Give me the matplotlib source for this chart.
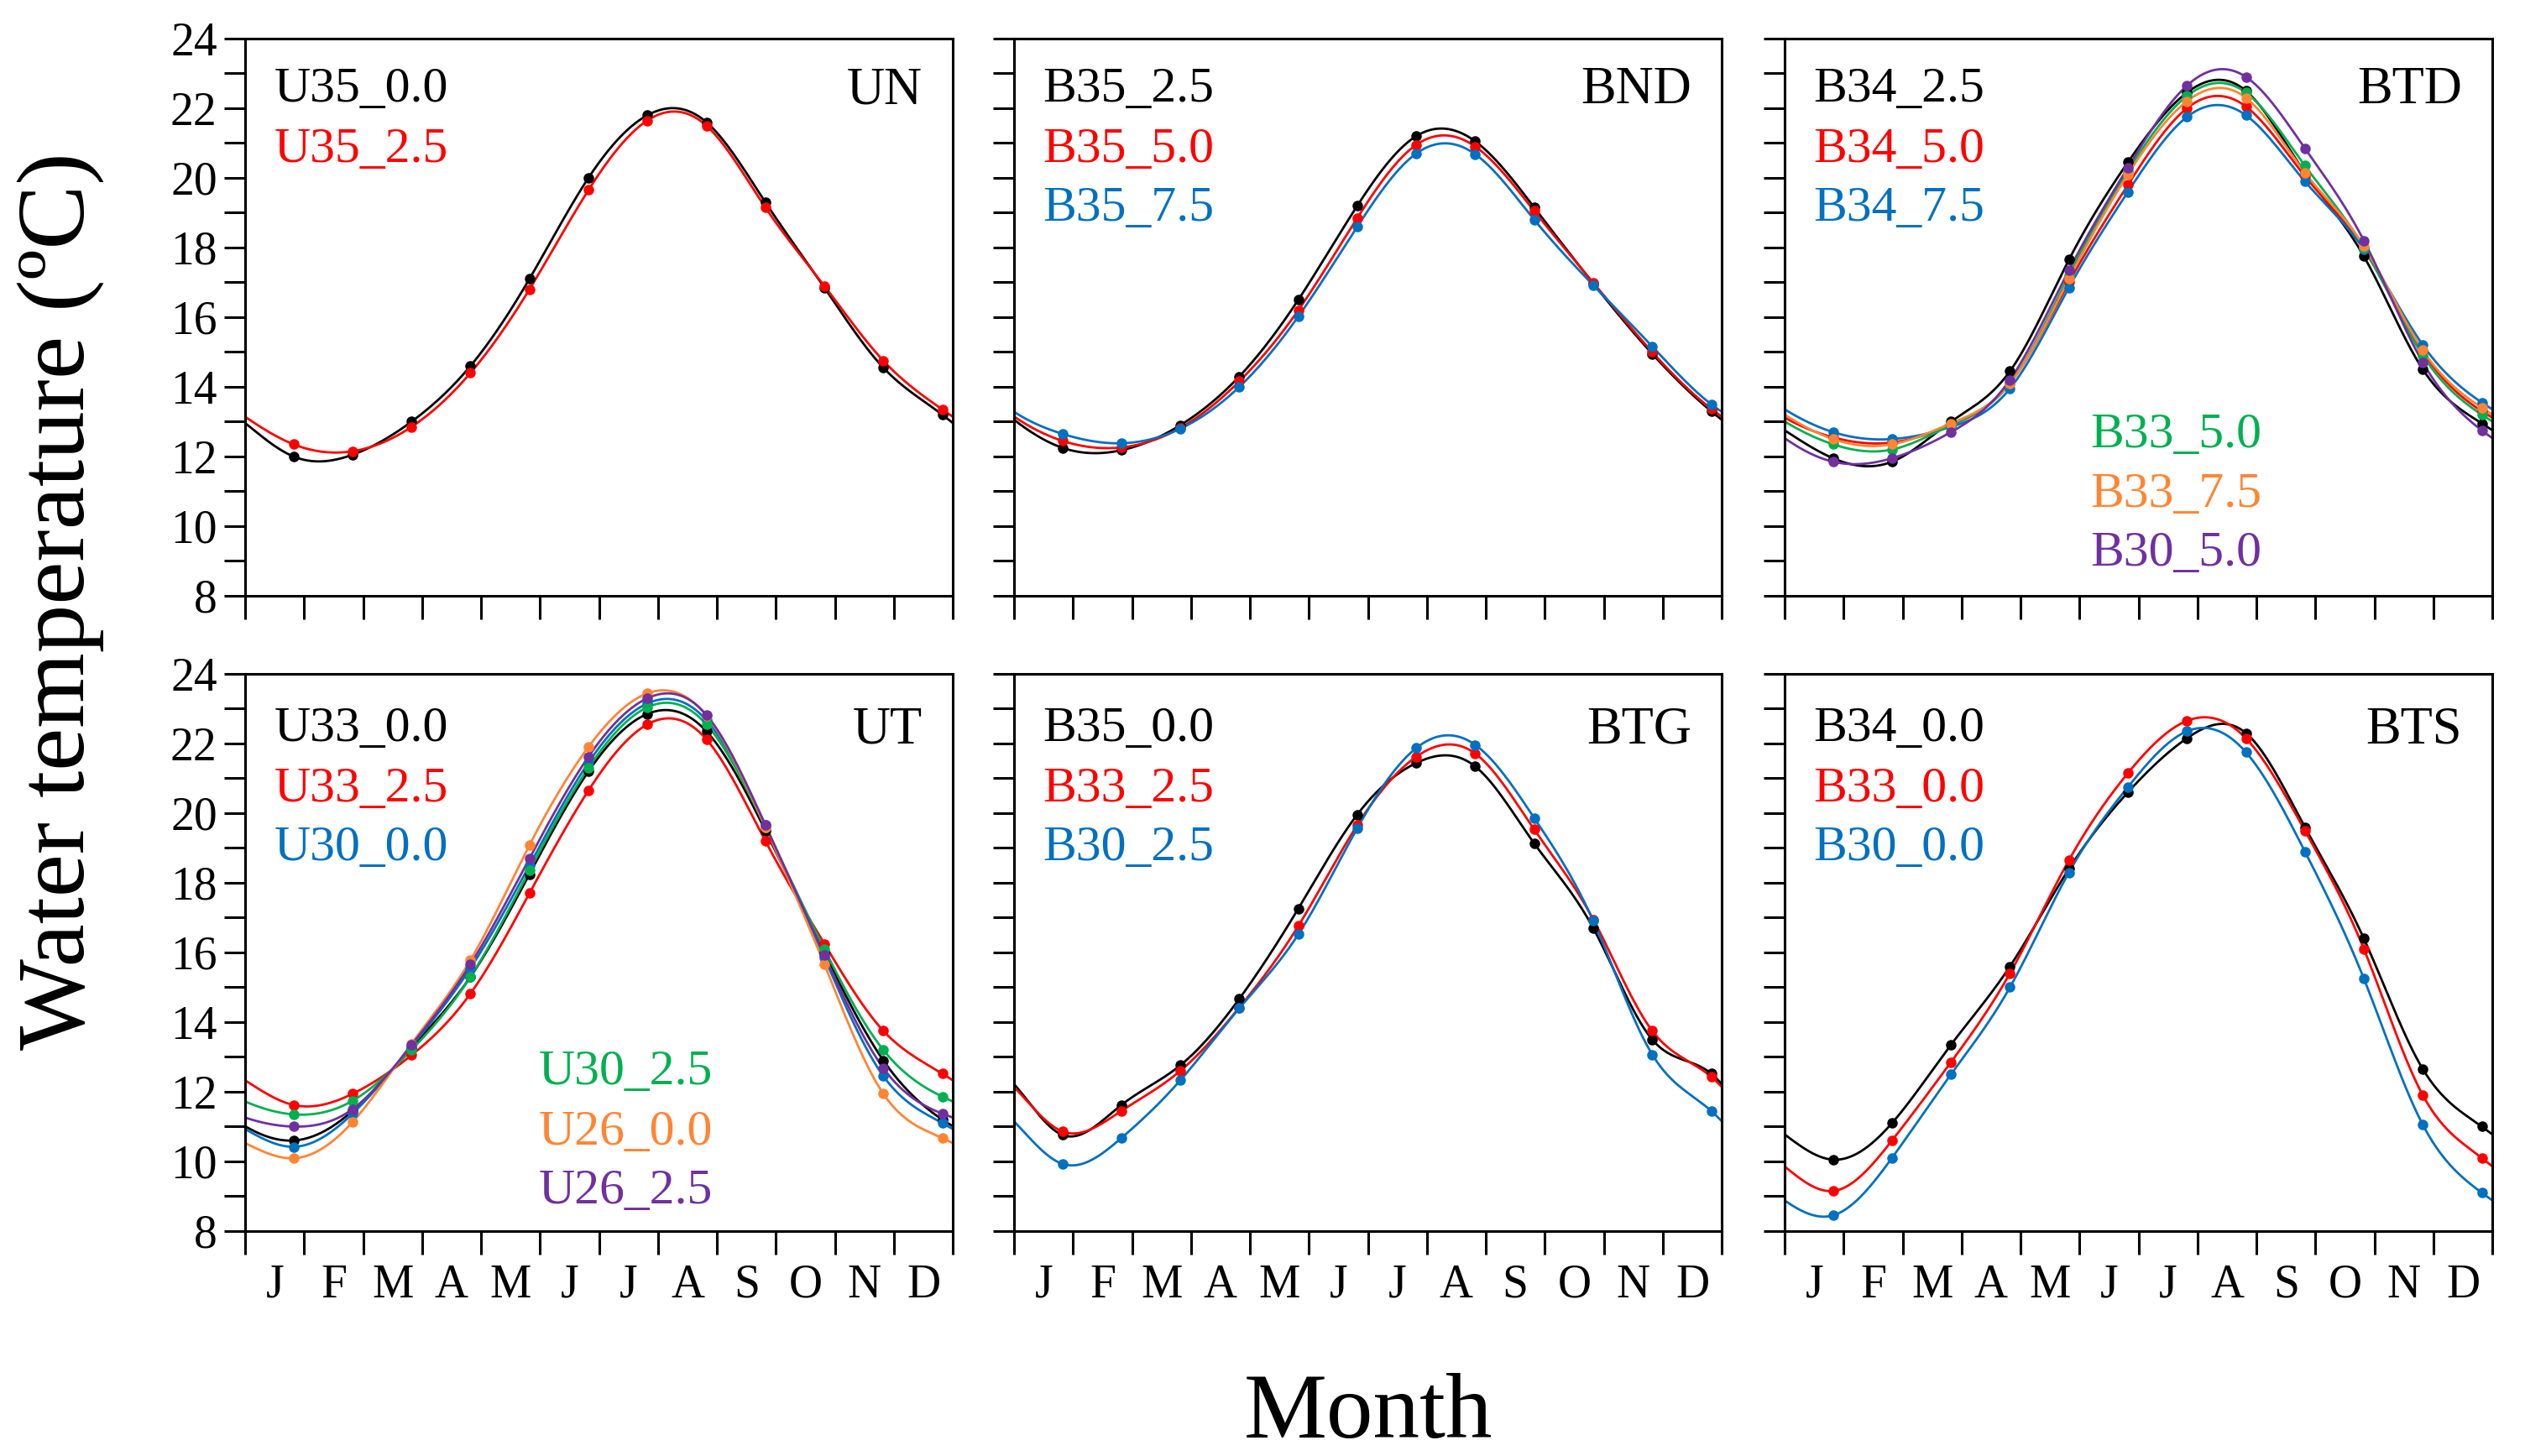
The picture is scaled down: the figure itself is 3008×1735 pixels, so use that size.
import numpy as np
import matplotlib
matplotlib.use('Agg')
import matplotlib.pyplot as plt
from matplotlib.ticker import MultipleLocator, FixedLocator

plt.rcParams['font.family'] = ['Liberation Serif', 'DejaVu Serif']

months = ['J', 'F', 'M', 'A', 'M', 'J', 'J', 'A', 'S', 'O', 'N', 'D']

# monthly water temperature (degC), one row per scenario
un_names = ['U35_0.0', 'U35_2.5']
un_vals = [
    [12.0, 12.05, 13.0, 14.6, 17.1, 20.0, 21.8, 21.6, 19.3, 16.85, 14.55, 13.2],
    [12.35, 12.15, 12.85, 14.4, 16.8, 19.65, 21.65, 21.5, 19.15, 16.9, 14.75, 13.35],
]

bnd_names = ['B35_2.5', 'B35_5.0', 'B35_7.5']
bnd_vals = [
    [12.25, 12.18, 12.9, 14.3, 16.5, 19.2, 21.2, 21.05, 19.15, 16.97, 14.95, 13.3],
    [12.45, 12.26, 12.82, 14.16, 16.2, 18.85, 20.95, 20.9, 19.05, 16.99, 15.0, 13.37],
    [12.65, 12.38, 12.8, 14.0, 16.02, 18.6, 20.7, 20.68, 18.8, 16.92, 15.16, 13.5],
]

btd_names = ['B34_2.5', 'B34_5.0', 'B34_7.5', 'B33_5.0', 'B33_7.5', 'B30_5.0']
btd_vals = [
    [11.95, 11.85, 13.0, 14.45, 17.65, 20.45, 22.45, 22.5, 20.15, 17.75, 14.5, 12.95],
    [12.55, 12.4, 12.9, 14.1, 17.0, 19.8, 22.0, 22.05, 20.05, 17.95, 15.0, 13.3],
    [12.7, 12.5, 12.85, 13.95, 16.85, 19.6, 21.75, 21.8, 19.9, 17.95, 15.2, 13.55],
    [12.35, 12.2, 12.9, 14.1, 17.2, 20.2, 22.35, 22.45, 20.35, 18.0, 14.9, 13.2],
    [12.5, 12.35, 12.95, 14.1, 17.1, 20.1, 22.2, 22.3, 20.15, 18.05, 15.05, 13.4],
    [11.85, 11.95, 12.7, 14.2, 17.35, 20.3, 22.65, 22.9, 20.85, 18.2, 14.7, 12.75],
]

ut_names = ['U33_0.0', 'U33_2.5', 'U30_0.0', 'U30_2.5', 'U26_0.0', 'U26_2.5']
ut_vals = [
    [10.6, 11.45, 13.26, 15.3, 18.25, 21.2, 22.85, 22.35, 19.5, 16.0, 12.9, 11.2],
    [11.62, 11.94, 13.05, 14.82, 17.7, 20.65, 22.55, 22.12, 19.2, 16.25, 13.75, 12.52],
    [10.42, 11.37, 13.3, 15.55, 18.5, 21.45, 23.15, 22.67, 19.65, 15.85, 12.45, 11.1],
    [11.35, 11.74, 13.2, 15.3, 18.35, 21.3, 23.04, 22.55, 19.6, 16.1, 13.2, 11.86],
    [10.09, 11.13, 13.38, 15.78, 19.08, 21.9, 23.44, 22.8, 19.6, 15.66, 11.94, 10.67],
    [11.0, 11.5, 13.34, 15.66, 18.7, 21.62, 23.3, 22.82, 19.66, 15.93, 12.68, 11.37],
]

btg_names = ['B35_0.0', 'B33_2.5', 'B30_2.5']
btg_vals = [
    [10.76, 11.62, 12.76, 14.67, 17.26, 19.96, 21.44, 21.34, 19.13, 16.7, 13.5, 12.52],
    [10.86, 11.45, 12.6, 14.42, 16.76, 19.66, 21.62, 21.71, 19.53, 16.95, 13.75, 12.43],
    [9.93, 10.67, 12.33, 14.4, 16.52, 19.57, 21.87, 21.96, 19.86, 16.91, 13.07, 11.45],
]

bts_names = ['B34_0.0', 'B33_0.0', 'B30_0.0']
bts_vals = [
    [10.05, 11.1, 13.35, 15.6, 18.4, 20.6, 22.15, 22.3, 19.6, 16.4, 12.65, 11.0],
    [9.15, 10.6, 12.85, 15.4, 18.65, 21.15, 22.65, 22.15, 19.5, 16.1, 11.9, 10.1],
    [8.45, 10.1, 12.5, 15.0, 18.3, 20.75, 22.35, 21.75, 18.9, 15.25, 11.05, 9.1],
]

colors = ['#000000', '#FF0000', '#0070C0', '#00B050', '#FF8533', '#7030A0']


def periodic_spline(xp, yp, period, xs):
    # closed cubic spline through the monthly points (the year wraps around)
    n = len(yp)
    yp = np.asarray(yp, dtype=float)
    A = np.zeros((n, n))
    rhs = np.zeros(n)
    for i in range(n):
        A[i, i] = 4.0
        A[i, (i - 1) % n] = 1.0
        A[i, (i + 1) % n] = 1.0
        rhs[i] = 6.0 * (yp[(i - 1) % n] - 2 * yp[i] + yp[(i + 1) % n])
    M = np.linalg.solve(A, rhs)
    t = (xs - xp[0]) % period
    i = np.floor(t).astype(int) % n
    u = t - np.floor(t)
    j = (i + 1) % n
    return (M[i] * (1 - u) ** 3 / 6 + M[j] * u ** 3 / 6
            + (yp[i] - M[i] / 6) * (1 - u) + (yp[j] - M[j] / 6) * u)


x_pts = np.arange(12) + 0.82
x_line = np.linspace(0, 12, 600)

fig = plt.figure(figsize=(30.08, 17.35), dpi=100)
lefts = [0.0971, 0.4016, 0.7068]
bottoms = [0.5908, 0.1545]
w, h = 0.2803, 0.3827

panels = [
    ('UN', un_names, un_vals, 0, 0),
    ('BND', bnd_names, bnd_vals, 0, 1),
    ('BTD', btd_names, btd_vals, 0, 2),
    ('UT', ut_names, ut_vals, 1, 0),
    ('BTG', btg_names, btg_vals, 1, 1),
    ('BTS', bts_names, bts_vals, 1, 2),
]

for title, names, vals, r, c in panels:
    ax = fig.add_axes([lefts[c], bottoms[r], w, h])
    for k, yv in enumerate(vals):
        col = colors[k]
        ax.plot(x_line, periodic_spline(x_pts, yv, 12, x_line), color=col, lw=2.0, zorder=2)
        ax.plot(x_pts, yv, 'o', color=col, ms=8, zorder=3)

    ax.set_xlim(0, 12)
    ax.set_ylim(8, 24)
    ax.yaxis.set_major_locator(MultipleLocator(2))
    ax.yaxis.set_minor_locator(MultipleLocator(1))
    ax.xaxis.set_major_locator(FixedLocator(np.arange(13)))
    ax.xaxis.set_minor_locator(FixedLocator(np.arange(12) + 0.5))
    ax.tick_params(axis='y', which='both', direction='out', length=18, width=2.2,
                   labelsize=40, pad=6)
    ax.tick_params(axis='x', which='major', direction='out', length=20, width=2.2,
                   labelbottom=False)
    ax.tick_params(axis='x', which='minor', length=0, labelsize=40, pad=28)
    for sp in ax.spines.values():
        sp.set_linewidth(2.2)

    if r == 1:
        ax.set_xticklabels(months, minor=True)
    else:
        ax.tick_params(axis='x', which='minor', labelbottom=False)
    if c != 0:
        ax.tick_params(axis='y', labelleft=False)

    dy = 0.012 if r == 0 else 0.02
    ax.text(0.957, 0.918 - dy, title, transform=ax.transAxes, ha='right', va='center',
            fontsize=45)
    ys = [0.92 - dy, 0.812 - dy, 0.706 - dy]
    for k in range(min(3, len(names))):
        ax.text(0.041, ys[k], names[k], color=colors[k], transform=ax.transAxes,
                ha='left', va='center', fontsize=43)
    if len(names) > 3:
        ys2 = [0.287, 0.18, 0.075] if r == 0 else [0.284, 0.176, 0.071]
        x2 = 0.432 if title == 'BTD' else 0.415
        for k in range(3, len(names)):
            ax.text(x2, ys2[k - 3], names[k], color=colors[k], transform=ax.transAxes,
                    ha='left', va='center', fontsize=43)

fig.text(0.024, 0.587, 'Water temperature (ºC)', rotation=90, ha='center', va='center',
         fontsize=83)
fig.text(0.542, 0.028, 'Month', ha='center', va='center', fontsize=80)

fig.savefig('out.png', dpi=100, facecolor='white')
